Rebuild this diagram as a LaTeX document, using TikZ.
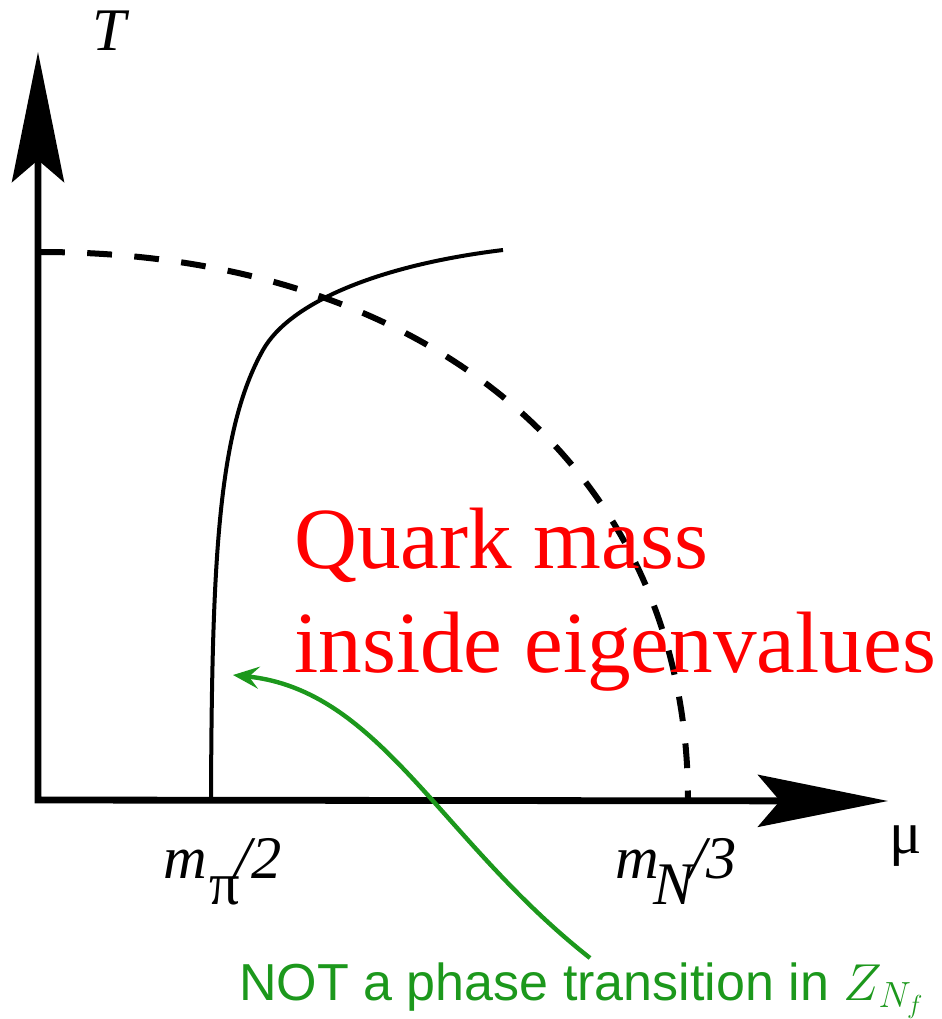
\documentclass[tikz,border=0pt]{standalone}
\usepackage{fix-cm}
\usepackage{fontspec}
\setmainfont{Liberation Serif}
\newfontfamily\notefont{Liberation Sans}
\usetikzlibrary{arrows.meta}
\definecolor{notegreen}{RGB}{28,152,28}

\begin{document}
\begin{tikzpicture}[
        x = 0.025cm, y = -0.025cm,
        >= {Stealth[length = 3.25cm, width = 1.3cm, inset = 0.55cm]},
        axis/.style = {line width = 0.17cm},
        boundary/.style = {line width = 0.15cm, dash pattern = on 0.62cm off 0.56cm},
        crossover/.style = {line width = 0.1cm},
        pointer/.style = {draw = notegreen, line width = 0.11cm,
                          -{Stealth[length = 0.65cm, width = 0.55cm, inset = 0.25cm]}},
        axislabel/.style = {inner sep = 0pt, anchor = base west, font = \fontsize{43}{43}\selectfont},
        masstext/.style = {inner sep = 0pt, anchor = base west, text = red, font = \fontsize{62}{62}\selectfont}
    ]

      \useasboundingbox (0,0) rectangle (941,1019);

      % axes
      \coordinate (o)      at (38,800);
      \coordinate (t_tip)  at (38,52);
      \coordinate (mu_tip) at (888,801);
      \draw[axis, <->] (t_tip) -- (o) -- (mu_tip);

      \node[axislabel] (l_T)  at (92,50)   {\textit{T}};
      \node[axislabel] (l_mu) at (889,853) {μ};
      \node[axislabel] (l_mpi) at (163,878) {\textit{m}\kern2pt\raisebox{-19pt}{π}\kern-4pt\textit{/2}};
      \node[axislabel] (l_mN)  at (615,878) {\textit{m}\kern-4pt\raisebox{-19pt}{\textit{N}}\kern-5pt\textit{/3}};

      % dashed line and crossover curve
      \draw[boundary] (40,252) .. controls (429,252) and (688,471) .. (688,800);
      \draw[crossover] (211,797) .. controls (212,560) and (218,430) .. (263,350)
                                 .. controls (290,302) and (380,265) .. (503,250);

      \node[masstext] (m_1) at (294,568) {Quark mass};
      \node[masstext] (m_2) at (294,672) {inside eigenvalues};

      % note
      \node[inner sep = 0pt, anchor = base west, text = notegreen,
            font = \notefont\fontsize{37}{37}\selectfont] (l_note) at (239,1000)
            {NOT a phase transition in $Z_{N_f}$};
      \coordinate (note_start) at (590,958);
      \coordinate (c_target)   at (233,675);
      \draw[pointer] (note_start) .. controls (440,840) and (380,690) .. (c_target);

\end{tikzpicture}
\end{document}
